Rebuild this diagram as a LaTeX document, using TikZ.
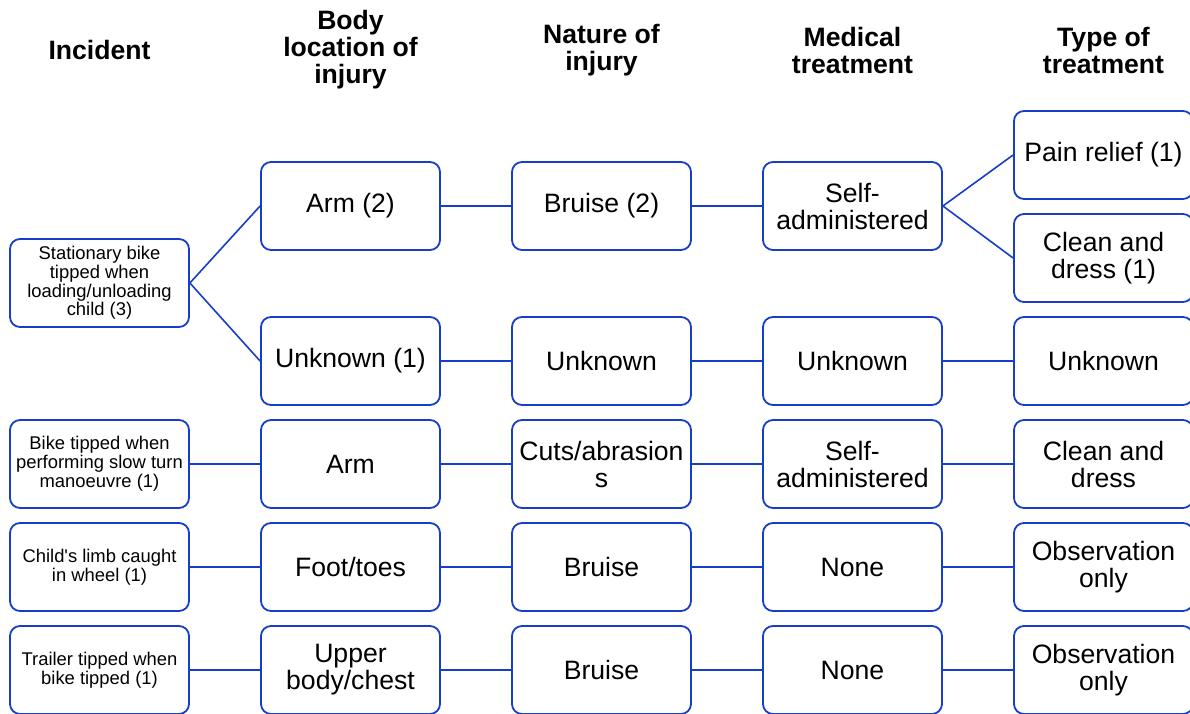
\documentclass[tikz,border=0pt]{standalone}
\usepackage{fontspec}
\setmainfont{Liberation Sans}
\definecolor{boxblue}{RGB}{22,62,200}
\tikzset{
  box/.style={draw=boxblue, line width=0.9pt, rounded corners=5pt, minimum width=89.5pt, minimum height=44pt, inner sep=1pt, align=center, font=\fontsize{13.3}{13.5}\selectfont},
  smallbox/.style={box, font=\fontsize{9.2}{9.4}\selectfont},
  head/.style={align=center, font=\bfseries\fontsize{13.3}{13.5}\selectfont},
  link/.style={draw=boxblue, line width=0.8pt}
}

\begin{document}
\begin{tikzpicture}[x=0.5pt, y=-0.5pt]
	\useasboundingbox (0,0) rectangle (1190,713);
	% column heads
	\node[head] (hInc) at (99.5,50) {Incident};
	\node[head] (hLoc) at (350.5,50) {Body\\location of\\injury};
	\node[head] (hNat) at (601.5,50) {Nature of\\injury};
	\node[head] (hMed) at (852.5,50) {Medical\\treatment};
	\node[head] (hTyp) at (1103.5,50) {Type of\\treatment};
	% stationary bike
	\node[smallbox] (inc1) at (99.5,283) {Stationary bike\\tipped when\\loading/unloading\\child (3)};
	\node[box] (loc1) at (350.5,206) {Arm (2)};
	\node[box] (nat1) at (601.5,206) {Bruise (2)};
	\node[box] (med1) at (852.5,206) {Self-\\administered};
	\node[box] (typ1a) at (1103.5,155) {Pain relief (1)};
	\node[box] (typ1b) at (1103.5,258) {Clean and\\dress (1)};
	\node[box] (loc2) at (350.5,361) {Unknown (1)};
	\node[box] (nat2) at (601.5,361) {Unknown};
	\node[box] (med2) at (852.5,361) {Unknown};
	\node[box] (typ2) at (1103.5,361) {Unknown};
	% slow turn
	\node[smallbox] (inc3) at (99.5,464) {Bike tipped when\\performing slow turn\\manoeuvre (1)};
	\node[box] (loc3) at (350.5,464) {Arm};
	\node[box] (nat3) at (601.5,464) {Cuts/abrasion\\s};
	\node[box] (med3) at (852.5,464) {Self-\\administered};
	\node[box] (typ3) at (1103.5,464) {Clean and\\dress};
	% limb in wheel
	\node[smallbox] (inc4) at (99.5,567) {Child\textquotesingle s limb caught\\in wheel (1)};
	\node[box] (loc4) at (350.5,567) {Foot/toes};
	\node[box] (nat4) at (601.5,567) {Bruise};
	\node[box] (med4) at (852.5,567) {None};
	\node[box] (typ4) at (1103.5,567) {Observation\\only};
	% trailer
	\node[smallbox] (inc5) at (99.5,670) {Trailer tipped when\\bike tipped (1)};
	\node[box] (loc5) at (350.5,670) {Upper\\body/chest};
	\node[box] (nat5) at (601.5,670) {Bruise};
	\node[box] (med5) at (852.5,670) {None};
	\node[box] (typ5) at (1103.5,670) {Observation\\only};

	\draw[link] (inc1.east) -- (loc1.west);
	\draw[link] (inc1.east) -- (loc2.west);
	\draw[link] (med1.east) -- (typ1a.west);
	\draw[link] (med1.east) -- (typ1b.west);
	\draw[link] (loc1) -- (nat1) -- (med1);
	\draw[link] (loc2) -- (nat2) -- (med2) -- (typ2);
	\foreach \r in {3,4,5}
	  \draw[link] (inc\r) -- (loc\r) -- (nat\r) -- (med\r) -- (typ\r);
\end{tikzpicture}
\end{document}
